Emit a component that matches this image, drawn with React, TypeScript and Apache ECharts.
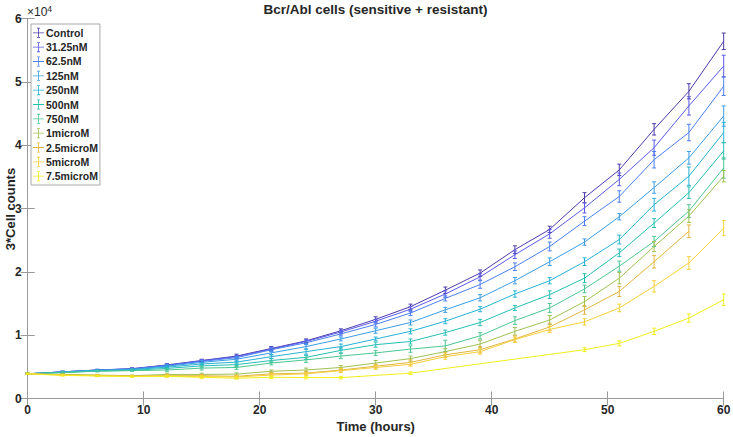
import React, { useEffect, useRef } from "react";
import * as echarts from "echarts";

// time points (hours)
const TIME = [0, 3, 6, 9, 12, 15, 18, 21, 24, 27, 30, 33, 36, 39, 42, 45, 48, 51, 54, 57, 60];

// tick values
const X_TICKS = [0, 10, 20, 30, 40, 50, 60];
const Y_TICKS = [0, 1, 2, 3, 4, 5, 6];

const NAMES = ["Control", "31.25nM", "62.5nM", "125nM", "250nM", "500nM", "750nM", "1microM", "2.5microM", "5microM", "7.5microM"];
const COLORS = ["#4b3bab", "#5a5be8", "#4b7ff2", "#3a9de6", "#27b2d6", "#25bfb6", "#4cc792", "#9fc152", "#e3b53f", "#f7cf3a", "#f2ee1c"];

// mean values (x 10^4 cells)
const CONTROL = [0.39, 0.42, 0.45, 0.47, 0.53, 0.60, 0.67, 0.79, 0.91, 1.07, 1.25, 1.45, 1.71, 1.98, 2.35, 2.67, 3.17, 3.61, 4.25, 4.85, 5.64];
const NM_31_25 = [0.39, 0.42, 0.45, 0.47, 0.525, 0.595, 0.66, 0.78, 0.90, 1.05, 1.22, 1.41, 1.65, 1.92, 2.27, 2.60, 3.01, 3.46, 3.96, 4.62, 5.25];
const NM_62_5 = [0.39, 0.42, 0.45, 0.465, 0.52, 0.585, 0.645, 0.77, 0.88, 1.02, 1.17, 1.35, 1.58, 1.80, 2.08, 2.40, 2.80, 3.19, 3.77, 4.20, 4.93];
const NM_125 = [0.39, 0.42, 0.445, 0.46, 0.51, 0.57, 0.62, 0.72, 0.82, 0.94, 1.07, 1.20, 1.40, 1.59, 1.86, 2.16, 2.47, 2.87, 3.33, 3.80, 4.46];
const NM_250 = [0.39, 0.415, 0.44, 0.455, 0.495, 0.545, 0.575, 0.66, 0.74, 0.82, 0.94, 1.06, 1.22, 1.41, 1.65, 1.86, 2.16, 2.51, 3.06, 3.51, 4.20];
const NM_500 = [0.39, 0.41, 0.435, 0.445, 0.475, 0.515, 0.535, 0.60, 0.65, 0.76, 0.85, 0.90, 1.04, 1.20, 1.43, 1.64, 1.90, 2.30, 2.77, 3.25, 3.91];
const NM_750 = [0.39, 0.41, 0.43, 0.44, 0.45, 0.48, 0.49, 0.56, 0.61, 0.67, 0.72, 0.78, 0.83, 0.99, 1.23, 1.43, 1.73, 2.09, 2.48, 2.96, 3.64];
const UM_1 = [0.39, 0.38, 0.37, 0.36, 0.38, 0.38, 0.385, 0.43, 0.45, 0.49, 0.56, 0.63, 0.74, 0.86, 1.06, 1.24, 1.53, 1.90, 2.40, 2.88, 3.51];
const UM_2_5 = [0.39, 0.375, 0.365, 0.355, 0.36, 0.36, 0.35, 0.39, 0.40, 0.45, 0.51, 0.57, 0.69, 0.77, 0.94, 1.13, 1.40, 1.69, 2.16, 2.64, null];
const UM_5 = [0.39, 0.37, 0.36, 0.35, 0.355, 0.345, 0.34, 0.37, 0.39, 0.44, 0.49, 0.54, 0.66, 0.74, 0.93, 1.09, 1.21, 1.43, 1.77, 2.14, 2.69];
const UM_7_5 = [0.39, 0.365, 0.355, 0.345, 0.35, 0.335, 0.32, 0.335, 0.33, 0.33, null, 0.40, null, null, null, null, 0.77, 0.87, 1.06, 1.27, 1.56];

// error bar half-lengths (x 10^4 cells)
const ERR_CONTROL = [0.01, 0.01, 0.01, 0.015, 0.02, 0.02, 0.03, 0.03, 0.03, 0.03, 0.04, 0.04, 0.05, 0.05, 0.06, 0.05, 0.08, 0.09, 0.09, 0.12, 0.13];
const ERR_31_25 = [0.01, 0.01, 0.01, 0.01, 0.02, 0.02, 0.02, 0.03, 0.03, 0.03, 0.03, 0.04, 0.05, 0.05, 0.06, 0.07, 0.08, 0.10, 0.12, 0.145, 0.17];
const ERR_62_5 = [0.01, 0.01, 0.01, 0.01, 0.02, 0.02, 0.02, 0.03, 0.03, 0.03, 0.04, 0.04, 0.04, 0.06, 0.06, 0.07, 0.07, 0.09, 0.13, 0.13, 0.145];
const ERR_125 = [0.01, 0.01, 0.01, 0.01, 0.02, 0.03, 0.03, 0.03, 0.04, 0.03, 0.04, 0.04, 0.04, 0.05, 0.05, 0.06, 0.05, 0.05, 0.09, 0.10, 0.16];
const ERR_250 = [0.01, 0.01, 0.01, 0.01, 0.02, 0.02, 0.03, 0.03, 0.04, 0.04, 0.03, 0.04, 0.04, 0.04, 0.05, 0.05, 0.06, 0.07, 0.10, 0.145, 0.16];
const ERR_500 = [0.01, 0.01, 0.01, 0.01, 0.02, 0.03, 0.03, 0.03, 0.03, 0.04, 0.04, 0.04, 0.04, 0.05, 0.04, 0.06, 0.07, 0.06, 0.07, 0.09, 0.13];
const ERR_750 = [0.01, 0.01, 0.01, 0.01, 0.02, 0.03, 0.03, 0.03, 0.04, 0.04, 0.04, 0.05, 0.09, 0.05, 0.06, 0.07, 0.06, 0.08, 0.08, 0.10, 0.16];
const ERR_1 = [0.01, 0.01, 0.01, 0.01, 0.02, 0.02, 0.02, 0.02, 0.03, 0.03, 0.04, 0.04, 0.05, 0.06, 0.06, 0.07, 0.08, 0.09, 0.08, 0.10, 0.09];
const ERR_2_5 = [0.01, 0.01, 0.01, 0.01, 0.02, 0.02, 0.02, 0.02, 0.03, 0.03, 0.03, 0.04, 0.04, 0.05, 0.05, 0.06, 0.07, 0.08, 0.10, 0.10, null];
const ERR_5 = [0.01, 0.01, 0.01, 0.01, 0.015, 0.02, 0.02, 0.02, 0.02, 0.03, 0.03, 0.03, 0.04, 0.04, 0.04, 0.05, 0.05, 0.06, 0.09, 0.10, 0.12];
const ERR_7_5 = [0.01, 0.01, 0.01, 0.01, 0.01, 0.015, 0.015, 0.02, 0.02, 0.02, null, 0.02, null, null, null, null, 0.03, 0.04, 0.05, 0.065, 0.09];

const VALUES = [CONTROL, NM_31_25, NM_62_5, NM_125, NM_250, NM_500, NM_750, UM_1, UM_2_5, UM_5, UM_7_5];
const ERRORS = [ERR_CONTROL, ERR_31_25, ERR_62_5, ERR_125, ERR_250, ERR_500, ERR_750, ERR_1, ERR_2_5, ERR_5, ERR_7_5];

const FONT = "'Liberation Sans', Arial, Helvetica, sans-serif";
const AXIS_COLOR = "#9a9a9a";
const TEXT_COLOR = "#262626";
const LEGEND_ICON = "path://M0,4.6h11v0.8h-11z M5.1,0h0.8v10h-0.8z M4,0h3v0.8h-3z M4,9.2h3v0.8h-3z";

export default function App() {
  const ref = useRef<HTMLDivElement>(null);

  useEffect(() => {
    document.body.style.margin = "0";
    const chart = echarts.init(ref.current!, null, { renderer: "svg" });

    const series: any[] = [];
    NAMES.forEach((name, i) => {
      const vals = VALUES[i];
      const errs = ERRORS[i];
      const color = COLORS[i];
      series.push({
        type: "line",
        name,
        data: TIME.map((t, k) => [t, vals[k] === null ? "-" : vals[k]]),
        connectNulls: true,
        showSymbol: false,
        symbol: "none",
        lineStyle: { color, width: 1 },
        itemStyle: { color },
        z: 2,
        xAxisIndex: 0,
        yAxisIndex: 0,
      });
      series.push({
        type: "custom",
        name,
        xAxisIndex: 0,
        yAxisIndex: 0,
        itemStyle: { color },
        data: TIME.map((t, k) => [t, vals[k], errs[k]]).filter((d) => d[1] !== null && d[2] !== null),
        encode: { x: 0, y: 1 },
        z: 3,
        renderItem: (params: any, api: any) => {
          const x = api.value(0);
          const y = api.value(1);
          const e = api.value(2);
          const lo = api.coord([x, y - e]);
          const hi = api.coord([x, y + e]);
          const cap = 2;
          const st = { stroke: color, lineWidth: 1, fill: null };
          return {
            type: "group",
            children: [
              { type: "line", shape: { x1: lo[0], y1: lo[1], x2: hi[0], y2: hi[1] }, style: st },
              { type: "line", shape: { x1: lo[0] - cap, y1: lo[1], x2: lo[0] + cap, y2: lo[1] }, style: st },
              { type: "line", shape: { x1: hi[0] - cap, y1: hi[1], x2: hi[0] + cap, y2: hi[1] }, style: st },
            ],
          };
        },
      });
    });

    const baseX = {
      type: "value",
      min: X_TICKS[0],
      max: X_TICKS[X_TICKS.length - 1],
      interval: X_TICKS[1] - X_TICKS[0],
      axisLine: { show: true, lineStyle: { color: AXIS_COLOR, width: 1 } },
      axisTick: { show: true, inside: true, length: 7, lineStyle: { color: AXIS_COLOR } },
      splitLine: { show: false },
    };
    const baseY = {
      type: "value",
      min: Y_TICKS[0],
      max: Y_TICKS[Y_TICKS.length - 1],
      interval: Y_TICKS[1] - Y_TICKS[0],
      axisLine: { show: true, lineStyle: { color: AXIS_COLOR, width: 1 } },
      axisTick: { show: true, inside: true, length: 7, lineStyle: { color: AXIS_COLOR } },
      splitLine: { show: false },
    };
    const labelStyle = { color: TEXT_COLOR, fontWeight: "bold", fontSize: 12, fontFamily: FONT };

    chart.setOption({
      animation: false,
      backgroundColor: "#ffffff",
      grid: { left: 27.7, right: 9.3, top: 18.5, bottom: 38.5, containLabel: false, outerBoundsMode: "none" },
      xAxis: [
        {
          ...baseX,
          position: "bottom",
          axisLabel: { ...labelStyle, margin: 5 },
          name: "Time (hours)",
          nameLocation: "middle",
          nameGap: 21.5,
          nameTextStyle: { color: TEXT_COLOR, fontWeight: "bold", fontSize: 13, fontFamily: FONT },
        },
        { ...baseX, position: "top", axisLabel: { show: false } },
      ],
      yAxis: [
        {
          ...baseY,
          position: "left",
          axisLabel: { ...labelStyle, margin: 6 },
        },
        { ...baseY, position: "right", axisLabel: { show: false } },
      ],
      legend: {
        orient: "vertical",
        left: 31,
        top: 24,
        itemWidth: 11,
        itemHeight: 10,
        itemGap: 3.34,
        padding: [3.3, 2, 3.3, 2],
        backgroundColor: "#ffffff",
        borderColor: "#a8a8a8",
        borderWidth: 1,
        borderRadius: 0,
        symbolKeepAspect: false,
        itemStyle: { borderWidth: 0 },
        textStyle: { color: TEXT_COLOR, fontWeight: "bold", fontSize: 10.5, fontFamily: FONT, padding: [0, 0, 0, -3] },
        data: NAMES.map((n) => ({ name: n, icon: LEGEND_ICON })),
        selectedMode: false,
      },
      graphic: [
        {
          type: "text",
          x: 375.5,
          y: 9,
          style: {
            text: "Bcr/Abl cells (sensitive + resistant)",
            fill: TEXT_COLOR,
            font: `bold 13.5px ${FONT}`,
            textAlign: "center",
            textVerticalAlign: "middle",
          },
        },
        {
          type: "text",
          x: 10,
          y: 209,
          rotation: Math.PI / 2,
          style: {
            text: "3*Cell counts",
            fill: TEXT_COLOR,
            font: `bold 13px ${FONT}`,
            textAlign: "center",
            textVerticalAlign: "middle",
          },
        },
        {
          type: "text",
          x: 27,
          y: 12,
          style: {
            text: "{a|×10}{b|4}",
            textVerticalAlign: "middle",
            rich: {
              a: { fontSize: 12, fill: TEXT_COLOR, fontFamily: FONT },
              b: { fontSize: 8.5, fill: TEXT_COLOR, fontFamily: FONT, verticalAlign: "top", padding: [0, 0, 6, 0] },
            },
          },
        },
      ],
      series,
    });

    return () => chart.dispose();
  }, []);

  return <div ref={ref} style={{ position: "absolute", left: 0, top: 0, width: 733, height: 437 }} />;
}
